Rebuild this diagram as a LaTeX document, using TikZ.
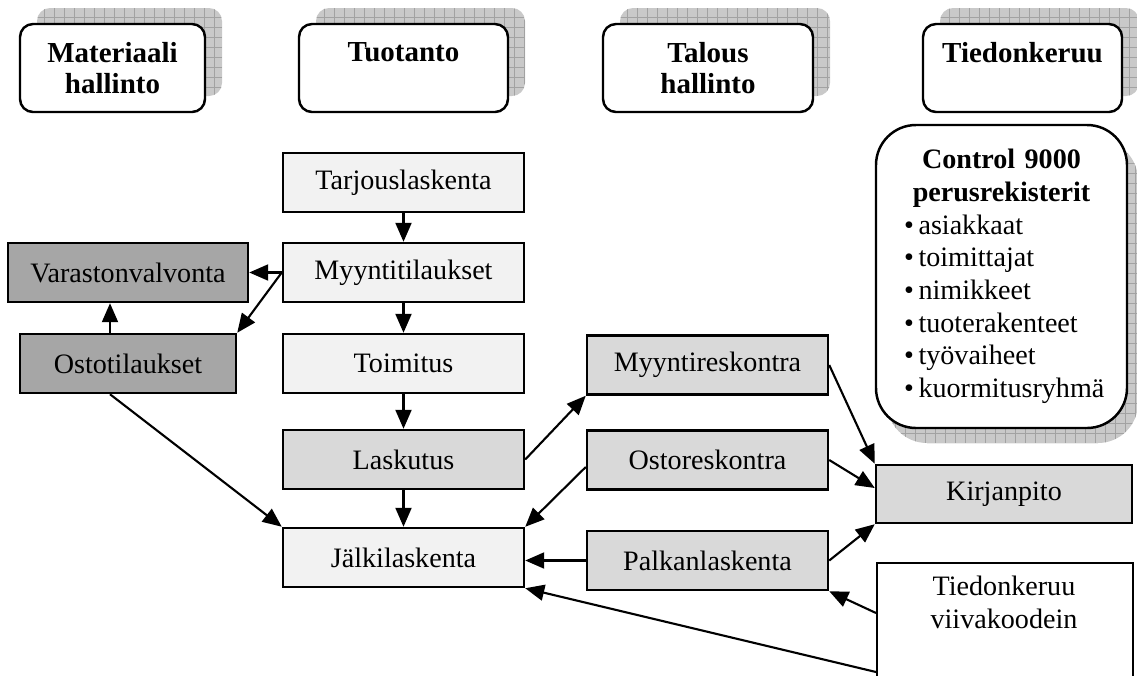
\documentclass[tikz,border=0pt]{standalone}
\usepackage{fontspec}
\setmainfont{Liberation Serif}
\usetikzlibrary{positioning}
\usetikzlibrary{arrows.meta}
\usetikzlibrary{shadows}
\usetikzlibrary{calc}

\definecolor{lightfill}{HTML}{F2F2F2}
\definecolor{midfill}{HTML}{D9D9D9}
\definecolor{darkfill}{HTML}{A6A6A6}
\definecolor{shadefill}{HTML}{C9C9C9}
\definecolor{shadegrid}{HTML}{A2A2A2}

\tikzset{
  gridpic/.style={path picture={\draw[shadegrid, line width=0.5pt] ([shift={(-0.05,-0.05)}]path picture bounding box.south west) grid[step=0.2cm] (path picture bounding box.north east);}},
  header/.style={draw, line width=1.4pt, rounded corners=0.26cm, fill=white, minimum width=#1, minimum height=1.76cm, align=center, font=\fontsize{16.5}{18}\selectfont\bfseries,
    general shadow={shadow xshift=0.34cm, shadow yshift=0.32cm, fill=shadefill, draw=none, gridpic}},
  ctrlbox/.style={draw, line width=1.4pt, rounded corners=0.8cm, fill=white, minimum width=5.02cm, minimum height=6.06cm, text width=3.9cm, font=\fontsize{16}{18.6}\selectfont,
    general shadow={shadow xshift=0.22cm, shadow yshift=-0.3cm, fill=shadefill, draw=none, gridpic}},
  flowbox/.style={draw, line width=1.4pt, minimum width=4.82cm, minimum height=1.18cm, fill=#1, font=\fontsize{16}{19}\selectfont},
  arr/.style={-{Triangle[length=0.38cm,width=0.32cm]}, line width=1.2pt},
}

\begin{document}
\begin{tikzpicture}
\useasboundingbox (0,0) rectangle (22.74,-13.5);

\node[header=3.7cm] (hmat) at (2.25,-1.36) {Materiaali\\hallinto};
\node[header=4.18cm] (htuo) at (8.07,-1.36) {Tuotanto\\\phantom{h}};
\node[header=4.2cm] (htal) at (14.16,-1.36) {Talous\\hallinto};
\node[header=3.98cm] (htied) at (20.45,-1.36) {Tiedonkeruu\\\phantom{h}};

\node[ctrlbox] (ctrl) at (20.03,-5.53) {{\centering\bfseries Control 9000\\perusrekisterit\par}
  \raggedright
  \textbullet\,asiakkaat\\
  \textbullet\,toimittajat\\
  \textbullet\,nimikkeet\\
  \textbullet\,tuoterakenteet\\
  \textbullet\,työvaiheet\\
  \textbullet\,kuormitusryhmä};

\node[flowbox=lightfill] (tarjous) at (8.07,-3.65) {Tarjouslaskenta};
\node[flowbox=lightfill] (myynti) at (8.07,-5.45) {Myyntitilaukset};
\node[flowbox=lightfill] (toimitus) at (8.07,-7.27) {Toimitus};
\node[flowbox=midfill] (laskutus) at (8.07,-9.19) {Laskutus};
\node[flowbox=lightfill] (jalki) at (8.07,-11.15) {Jälkilaskenta};

\node[flowbox=darkfill, minimum width=4.8cm] (varasto) at (2.56,-5.45) {Varastonvalvonta};
\node[flowbox=darkfill, minimum width=4.32cm] (osto) at (2.56,-7.27) {Ostotilaukset};

\node[flowbox=midfill] (myyntires) at (14.15,-7.30) {Myyntireskontra};
\node[flowbox=midfill] (ostores) at (14.15,-9.20) {Ostoreskontra};
\node[flowbox=midfill] (palkan) at (14.15,-11.21) {Palkanlaskenta};

\node[flowbox=midfill, minimum width=5.12cm, minimum height=1.16cm] (kirjan) at (20.08,-9.88) {Kirjanpito};

\node[draw, line width=1.4pt, fill=white, minimum width=5.12cm, minimum height=2.8cm, anchor=north west] (tiedbox) at (17.52,-11.24) {};
\node[align=center, font=\fontsize{16}{19}\selectfont] (tiedtxt) at (20.08,-12.05) {Tiedonkeruu\\viivakoodein};

\draw[arr] (tarjous) -- (myynti);
\draw[arr] (myynti) -- (toimitus);
\draw[arr] (toimitus) -- (laskutus);
\draw[arr] (laskutus) -- (jalki);
\draw[arr] (myynti.west) -- (varasto.east);
\draw[arr] (myynti.west) -- (osto.north east);
\draw[arr] ([xshift=-0.36cm]osto.north) -- ([xshift=-0.36cm]varasto.south);
\draw[arr] ([xshift=-0.36cm]osto.south) -- (jalki.north west);
\draw[arr] (laskutus.east) -- (myyntires.south west);
\draw[arr] ([yshift=-0.14cm]ostores.west) -- (jalki.north east);
\draw[arr] (palkan.west) -- (palkan.west -| jalki.east);
\draw[arr] (myyntires.east) -- (kirjan.north west);
\draw[arr] (ostores.east) -- ([yshift=0.12cm]kirjan.west);
\draw[arr] (palkan.east) -- (kirjan.south west);
\draw[arr] ([yshift=-1.02cm]tiedbox.north west) -- (palkan.south east);
\draw[arr] ([yshift=-2.2cm]tiedbox.north west) -- (jalki.south east);
\end{tikzpicture}
\end{document}
